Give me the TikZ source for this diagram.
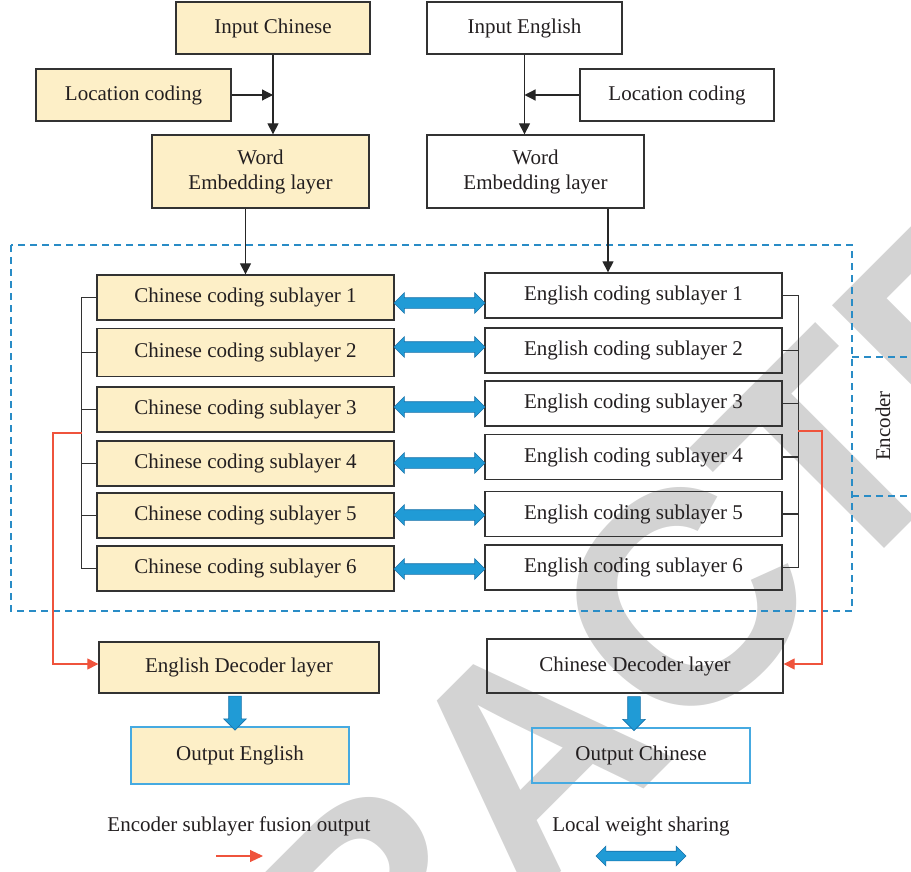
\documentclass[tikz,border=0pt]{standalone}
\usepackage{fontspec}
\setmainfont{Liberation Serif}
\newfontfamily\markfont{Liberation Sans}
\usetikzlibrary{arrows.meta,shapes.arrows,calc}

\definecolor{ylw}{RGB}{253,239,199}
\definecolor{edge}{RGB}{50,50,50}
\definecolor{ink}{RGB}{35,31,32}
\definecolor{dashblue}{RGB}{41,140,198}
\definecolor{fatblue}{RGB}{32,155,214}
\definecolor{fatedge}{RGB}{25,115,170}
\definecolor{outblue}{RGB}{70,170,225}
\definecolor{fusered}{RGB}{239,83,60}
\definecolor{markgrey}{RGB}{211,211,211}

\tikzset{
  box/.style={draw=edge, line width=1.3pt, inner sep=0pt, align=center, text=ink},
  ybox/.style={box, fill=ylw},
  wbox/.style={box},
  obox/.style={box, draw=outblue},
  conn/.style={draw=black!85, line width=1.2pt, -{Triangle[length=11pt,width=11pt]}},
  bracket/.style={draw=edge, line width=1.2pt},
  fuse/.style={draw=fusered, line width=1.1pt, -{Triangle[length=11pt,width=11pt]}},
  dashbox/.style={draw=dashblue, line width=1.2pt, dash pattern=on 7pt off 5pt},
  share/.style={double arrow, draw=fatedge, fill=fatblue, line width=0.6pt,
    inner xsep=0pt, inner ysep=5pt, double arrow head extend=5pt, minimum height=91pt},
  drop/.style={single arrow, draw=fatedge, fill=fatblue, line width=0.6pt,
    inner xsep=0pt, inner ysep=6pt, single arrow head extend=5pt, minimum height=34pt, rotate=-90},
}

\begin{document}
\begin{tikzpicture}[x=1pt, y=-1pt, font=\fontsize{21}{25}\selectfont, text=ink]
\useasboundingbox (0,0) rectangle (911,872);

% retraction stamp across the figure
\node[text=markgrey, font=\markfont\bfseries\fontsize{303}{303}\selectfont,
      rotate=45, anchor=base west, inner sep=0pt] (stamp) at (-58.1,1490.9) {RETRACTED};

% input side
\node[ybox, minimum width=194pt, minimum height=52pt] (inC) at (273,28) {Input Chinese};
\node[ybox, minimum width=195pt, minimum height=52pt] (locC) at (133.5,95) {Location coding};
\node[ybox, minimum width=217pt, minimum height=73pt] (embC) at (260.5,171.5) {Word\\Embedding layer};
\node[wbox, minimum width=195pt, minimum height=52pt] (inE) at (524.5,28) {Input English};
\node[wbox, minimum width=194pt, minimum height=52pt] (locE) at (677,95) {Location coding};
\node[wbox, minimum width=217pt, minimum height=73pt] (embE) at (535.5,171.5) {Word\\Embedding layer};

% encoder frame
\draw[dashbox] (11,245) rectangle (852,611);
\draw[dashbox] (852,357) -- (911,357);
\draw[dashbox] (852,496) -- (911,496);
\node[rotate=90] (enc) at (883,426) {Encoder};

% coding sublayers
\foreach \i/\y/\h in {1/297.5/45, 2/352.5/48, 3/409.5/45, 4/463.5/45, 5/515.5/45, 6/568.5/45}
  \node[ybox, minimum width=297pt, minimum height=\h pt] (cs\i) at (245.5,\y) {Chinese coding sublayer \i};
\foreach \i/\y in {1/295.5, 2/350.5, 3/403.5, 4/457, 5/514, 6/567.5}
  \node[wbox, minimum width=297pt, minimum height=45pt] (es\i) at (633.5,\y) {English coding sublayer \i};

% weight sharing between the two stacks
\foreach \i/\ay in {1/303, 2/347, 3/407, 4/463, 5/515, 6/569}
  \path (cs\i.east |- 0,\ay) -- (es\i.west |- 0,\ay) node[midway, share] (sh\i) {};

% brackets collecting the sublayer outputs
\draw[bracket] (cs1.west) -- ++(-15,0) |- (cs6.west);
\foreach \i in {2,...,5} \draw[bracket] (cs\i.west) -- ++(-15,0);
\draw[bracket] (es1.east) -- ++(16,0) |- (es6.east);
\foreach \i in {2,...,5} \draw[bracket] (es\i.east) -- ++(16,0);

% decoders and outputs
\node[ybox, minimum width=280pt, minimum height=51pt] (ed) at (239,667.5) {English Decoder layer};
\node[wbox, minimum width=296pt, minimum height=54pt] (cd) at (635,666) {Chinese Decoder layer};
\node[obox, fill=ylw, minimum width=218pt, minimum height=57pt] (oe) at (240,755.5) {Output English};
\node[obox, minimum width=218pt, minimum height=55pt] (oc) at (641,755.5) {Output Chinese};

% black connectors
\draw[conn] (inC.south) -- (inC.south |- embC.north);
\draw[conn] (locC.east) -- (locC.east -| inC.south);
\draw[conn] (inE.south) -- (inE.south |- embE.north);
\draw[conn] (locE.west) -- (locE.west -| inE.south);
\draw[conn] (cs1.north |- embC.south) -- (cs1.north);
\draw[conn] ([xshift=72.5pt]embE.south) -- ([xshift=72.5pt]embE.south |- es1.north);

% fused encoder output to the decoders
\coordinate (lfuse) at (82,433);
\coordinate (rfuse) at (798,431);
\draw[fuse] (lfuse) -- (53,433) |- ([yshift=3.5pt]ed.west);
\draw[fuse] (rfuse) -- (822,431) |- ([yshift=2pt]cd.east);

% decoder to output
\path ([xshift=-4pt]ed.south) -- ([xshift=-4pt]ed.south |- oe.north) node[midway, drop] (de) {};
\path ([xshift=-1pt]cd.south) -- ([xshift=-1pt]cd.south |- oc.north) node[midway, drop] (dc) {};

% legend
\node (lgF) at (239,826) {Encoder sublayer fusion output};
\node (lgS) at (641,826) {Local weight sharing};
\draw[fuse, -{Triangle[length=13pt,width=12pt]}] ([shift={(-23,30)}]lgF.center) -- ([shift={(24,30)}]lgF.center);
\path ([shift={(-45,30)}]lgS.center) -- ([shift={(45,30)}]lgS.center)
  node[midway, share, inner ysep=4.5pt, minimum height=90pt] (lgA) {};
\end{tikzpicture}
\end{document}
